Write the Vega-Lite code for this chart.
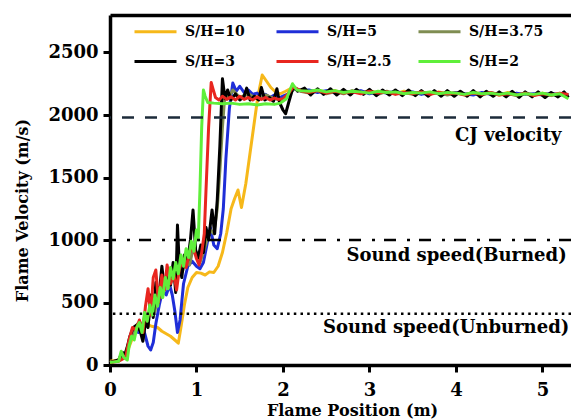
{
  "$schema": "https://vega.github.io/schema/vega-lite/v6.json",
  "width": 461,
  "height": 350,
  "autosize": {"type": "none"},
  "padding": {"left": 110, "top": 15, "right": 0, "bottom": 54},
  "background": "white",
  "config": {
    "view": {"stroke": null},
    "font": "DejaVu Serif",
    "axis": {"grid": false, "domainColor": "black", "tickColor": "black", "labelColor": "black", "titleColor": "black", "labelFont": "DejaVu Serif", "titleFont": "DejaVu Serif", "labelFontWeight": "bold", "titleFontWeight": "bold"},
    "legend": {"labelFont": "DejaVu Serif", "labelFontWeight": "bold"}
  },
  "datasets": {
    "curves": [
      {"s":"S/H=10","x":0,"y":30},{"s":"S/H=10","x":0.1,"y":40},{"s":"S/H=10","x":0.18,"y":70},{"s":"S/H=10","x":0.24,"y":180},{"s":"S/H=10","x":0.3,"y":280},{"s":"S/H=10","x":0.36,"y":330},{"s":"S/H=10","x":0.42,"y":330},{"s":"S/H=10","x":0.48,"y":310},{"s":"S/H=10","x":0.55,"y":300},{"s":"S/H=10","x":0.6,"y":270},{"s":"S/H=10","x":0.65,"y":250},{"s":"S/H=10","x":0.7,"y":230},{"s":"S/H=10","x":0.75,"y":200},{"s":"S/H=10","x":0.79,"y":175},{"s":"S/H=10","x":0.82,"y":300},{"s":"S/H=10","x":0.86,"y":480},{"s":"S/H=10","x":0.9,"y":620},{"s":"S/H=10","x":0.95,"y":700},{"s":"S/H=10","x":1.0,"y":740},{"s":"S/H=10","x":1.05,"y":735},{"s":"S/H=10","x":1.1,"y":720},{"s":"S/H=10","x":1.15,"y":745},{"s":"S/H=10","x":1.2,"y":740},{"s":"S/H=10","x":1.25,"y":790},{"s":"S/H=10","x":1.3,"y":900},{"s":"S/H=10","x":1.35,"y":1060},{"s":"S/H=10","x":1.4,"y":1250},{"s":"S/H=10","x":1.44,"y":1330},{"s":"S/H=10","x":1.48,"y":1400},{"s":"S/H=10","x":1.52,"y":1260},{"s":"S/H=10","x":1.57,"y":1450},{"s":"S/H=10","x":1.62,"y":1700},{"s":"S/H=10","x":1.67,"y":1950},{"s":"S/H=10","x":1.71,"y":2150},{"s":"S/H=10","x":1.76,"y":2320},{"s":"S/H=10","x":1.8,"y":2280},{"s":"S/H=10","x":1.86,"y":2220},{"s":"S/H=10","x":1.92,"y":2180},{"s":"S/H=10","x":1.97,"y":2170},{"s":"S/H=10","x":2.03,"y":2190},{"s":"S/H=10","x":2.1,"y":2215},{"s":"S/H=10","x":2.2,"y":2200},{"s":"S/H=10","x":2.3,"y":2185},{"s":"S/H=10","x":2.4,"y":2200},{"s":"S/H=10","x":2.5,"y":2180},{"s":"S/H=10","x":2.6,"y":2195},{"s":"S/H=10","x":2.7,"y":2175},{"s":"S/H=10","x":2.8,"y":2190},{"s":"S/H=10","x":2.9,"y":2180},{"s":"S/H=10","x":3.0,"y":2195},{"s":"S/H=10","x":3.1,"y":2175},{"s":"S/H=10","x":3.2,"y":2185},{"s":"S/H=10","x":3.3,"y":2170},{"s":"S/H=10","x":3.4,"y":2190},{"s":"S/H=10","x":3.5,"y":2175},{"s":"S/H=10","x":3.6,"y":2180},{"s":"S/H=10","x":3.7,"y":2165},{"s":"S/H=10","x":3.8,"y":2185},{"s":"S/H=10","x":3.9,"y":2170},{"s":"S/H=10","x":4.0,"y":2180},{"s":"S/H=10","x":4.1,"y":2165},{"s":"S/H=10","x":4.2,"y":2180},{"s":"S/H=10","x":4.3,"y":2170},{"s":"S/H=10","x":4.4,"y":2175},{"s":"S/H=10","x":4.5,"y":2160},{"s":"S/H=10","x":4.6,"y":2180},{"s":"S/H=10","x":4.7,"y":2165},{"s":"S/H=10","x":4.8,"y":2170},{"s":"S/H=10","x":4.9,"y":2160},{"s":"S/H=10","x":5.0,"y":2175},{"s":"S/H=10","x":5.1,"y":2160},{"s":"S/H=10","x":5.2,"y":2170},{"s":"S/H=10","x":5.3,"y":2155},

      {"s":"S/H=5","x":0,"y":20},{"s":"S/H=5","x":0.1,"y":35},{"s":"S/H=5","x":0.18,"y":80},{"s":"S/H=5","x":0.23,"y":200},{"s":"S/H=5","x":0.28,"y":290},{"s":"S/H=5","x":0.33,"y":260},{"s":"S/H=5","x":0.37,"y":330},{"s":"S/H=5","x":0.41,"y":230},{"s":"S/H=5","x":0.44,"y":150},{"s":"S/H=5","x":0.47,"y":120},{"s":"S/H=5","x":0.5,"y":180},{"s":"S/H=5","x":0.53,"y":330},{"s":"S/H=5","x":0.57,"y":480},{"s":"S/H=5","x":0.61,"y":600},{"s":"S/H=5","x":0.65,"y":560},{"s":"S/H=5","x":0.69,"y":640},{"s":"S/H=5","x":0.72,"y":560},{"s":"S/H=5","x":0.75,"y":430},{"s":"S/H=5","x":0.78,"y":260},{"s":"S/H=5","x":0.81,"y":360},{"s":"S/H=5","x":0.85,"y":650},{"s":"S/H=5","x":0.9,"y":790},{"s":"S/H=5","x":0.95,"y":830},{"s":"S/H=5","x":1.0,"y":790},{"s":"S/H=5","x":1.04,"y":770},{"s":"S/H=5","x":1.08,"y":820},{"s":"S/H=5","x":1.12,"y":960},{"s":"S/H=5","x":1.16,"y":1100},{"s":"S/H=5","x":1.2,"y":960},{"s":"S/H=5","x":1.24,"y":930},{"s":"S/H=5","x":1.28,"y":1050},{"s":"S/H=5","x":1.31,"y":1250},{"s":"S/H=5","x":1.34,"y":1650},{"s":"S/H=5","x":1.38,"y":2050},{"s":"S/H=5","x":1.42,"y":2256},{"s":"S/H=5","x":1.46,"y":2190},{"s":"S/H=5","x":1.5,"y":2230},{"s":"S/H=5","x":1.55,"y":2180},{"s":"S/H=5","x":1.6,"y":2200},{"s":"S/H=5","x":1.65,"y":2165},{"s":"S/H=5","x":1.7,"y":2175},{"s":"S/H=5","x":1.75,"y":2150},{"s":"S/H=5","x":1.8,"y":2165},{"s":"S/H=5","x":1.85,"y":2140},{"s":"S/H=5","x":1.9,"y":2160},{"s":"S/H=5","x":1.95,"y":2135},{"s":"S/H=5","x":2.0,"y":2150},{"s":"S/H=5","x":2.07,"y":2170},{"s":"S/H=5","x":2.14,"y":2215},{"s":"S/H=5","x":2.2,"y":2195},{"s":"S/H=5","x":2.3,"y":2200},{"s":"S/H=5","x":2.4,"y":2180},{"s":"S/H=5","x":2.5,"y":2195},{"s":"S/H=5","x":2.6,"y":2175},{"s":"S/H=5","x":2.7,"y":2190},{"s":"S/H=5","x":2.8,"y":2180},{"s":"S/H=5","x":2.9,"y":2195},{"s":"S/H=5","x":3.0,"y":2170},{"s":"S/H=5","x":3.1,"y":2185},{"s":"S/H=5","x":3.2,"y":2175},{"s":"S/H=5","x":3.3,"y":2190},{"s":"S/H=5","x":3.4,"y":2170},{"s":"S/H=5","x":3.5,"y":2185},{"s":"S/H=5","x":3.6,"y":2165},{"s":"S/H=5","x":3.7,"y":2180},{"s":"S/H=5","x":3.8,"y":2175},{"s":"S/H=5","x":3.9,"y":2165},{"s":"S/H=5","x":4.0,"y":2180},{"s":"S/H=5","x":4.1,"y":2170},{"s":"S/H=5","x":4.2,"y":2160},{"s":"S/H=5","x":4.3,"y":2180},{"s":"S/H=5","x":4.4,"y":2165},{"s":"S/H=5","x":4.5,"y":2175},{"s":"S/H=5","x":4.6,"y":2160},{"s":"S/H=5","x":4.7,"y":2175},{"s":"S/H=5","x":4.8,"y":2165},{"s":"S/H=5","x":4.9,"y":2170},{"s":"S/H=5","x":5.0,"y":2160},{"s":"S/H=5","x":5.1,"y":2175},{"s":"S/H=5","x":5.2,"y":2160},{"s":"S/H=5","x":5.3,"y":2165},

      {"s":"S/H=3.75","x":0,"y":20},{"s":"S/H=3.75","x":0.1,"y":40},{"s":"S/H=3.75","x":0.17,"y":90},{"s":"S/H=3.75","x":0.22,"y":180},{"s":"S/H=3.75","x":0.27,"y":270},{"s":"S/H=3.75","x":0.32,"y":330},{"s":"S/H=3.75","x":0.36,"y":290},{"s":"S/H=3.75","x":0.4,"y":380},{"s":"S/H=3.75","x":0.44,"y":330},{"s":"S/H=3.75","x":0.48,"y":500},{"s":"S/H=3.75","x":0.52,"y":430},{"s":"S/H=3.75","x":0.56,"y":620},{"s":"S/H=3.75","x":0.6,"y":540},{"s":"S/H=3.75","x":0.64,"y":700},{"s":"S/H=3.75","x":0.68,"y":620},{"s":"S/H=3.75","x":0.72,"y":760},{"s":"S/H=3.75","x":0.76,"y":680},{"s":"S/H=3.75","x":0.8,"y":820},{"s":"S/H=3.75","x":0.84,"y":750},{"s":"S/H=3.75","x":0.88,"y":870},{"s":"S/H=3.75","x":0.92,"y":800},{"s":"S/H=3.75","x":0.96,"y":930},{"s":"S/H=3.75","x":1.0,"y":870},{"s":"S/H=3.75","x":1.04,"y":820},{"s":"S/H=3.75","x":1.08,"y":900},{"s":"S/H=3.75","x":1.12,"y":1000},{"s":"S/H=3.75","x":1.16,"y":1080},{"s":"S/H=3.75","x":1.2,"y":1050},{"s":"S/H=3.75","x":1.24,"y":1250},{"s":"S/H=3.75","x":1.27,"y":1550},{"s":"S/H=3.75","x":1.3,"y":1900},{"s":"S/H=3.75","x":1.33,"y":2180},{"s":"S/H=3.75","x":1.37,"y":2140},{"s":"S/H=3.75","x":1.42,"y":2200},{"s":"S/H=3.75","x":1.5,"y":2140},{"s":"S/H=3.75","x":1.6,"y":2170},{"s":"S/H=3.75","x":1.7,"y":2130},{"s":"S/H=3.75","x":1.8,"y":2160},{"s":"S/H=3.75","x":1.9,"y":2130},{"s":"S/H=3.75","x":2.0,"y":2120},{"s":"S/H=3.75","x":2.07,"y":2160},{"s":"S/H=3.75","x":2.13,"y":2215},{"s":"S/H=3.75","x":2.2,"y":2190},{"s":"S/H=3.75","x":2.3,"y":2175},{"s":"S/H=3.75","x":2.4,"y":2195},{"s":"S/H=3.75","x":2.5,"y":2170},{"s":"S/H=3.75","x":2.6,"y":2185},{"s":"S/H=3.75","x":2.7,"y":2170},{"s":"S/H=3.75","x":2.8,"y":2195},{"s":"S/H=3.75","x":2.9,"y":2175},{"s":"S/H=3.75","x":3.0,"y":2185},{"s":"S/H=3.75","x":3.1,"y":2165},{"s":"S/H=3.75","x":3.2,"y":2190},{"s":"S/H=3.75","x":3.3,"y":2170},{"s":"S/H=3.75","x":3.4,"y":2180},{"s":"S/H=3.75","x":3.5,"y":2165},{"s":"S/H=3.75","x":3.6,"y":2185},{"s":"S/H=3.75","x":3.7,"y":2170},{"s":"S/H=3.75","x":3.8,"y":2180},{"s":"S/H=3.75","x":3.9,"y":2160},{"s":"S/H=3.75","x":4.0,"y":2175},{"s":"S/H=3.75","x":4.1,"y":2165},{"s":"S/H=3.75","x":4.2,"y":2175},{"s":"S/H=3.75","x":4.3,"y":2160},{"s":"S/H=3.75","x":4.4,"y":2180},{"s":"S/H=3.75","x":4.5,"y":2165},{"s":"S/H=3.75","x":4.6,"y":2170},{"s":"S/H=3.75","x":4.7,"y":2155},{"s":"S/H=3.75","x":4.8,"y":2175},{"s":"S/H=3.75","x":4.9,"y":2160},{"s":"S/H=3.75","x":5.0,"y":2170},{"s":"S/H=3.75","x":5.1,"y":2155},{"s":"S/H=3.75","x":5.2,"y":2170},{"s":"S/H=3.75","x":5.3,"y":2160},

      {"s":"S/H=3","x":0,"y":20},{"s":"S/H=3","x":0.1,"y":40},{"s":"S/H=3","x":0.14,"y":100},{"s":"S/H=3","x":0.18,"y":90},{"s":"S/H=3","x":0.23,"y":230},{"s":"S/H=3","x":0.27,"y":300},{"s":"S/H=3","x":0.31,"y":320},{"s":"S/H=3","x":0.35,"y":270},{"s":"S/H=3","x":0.38,"y":190},{"s":"S/H=3","x":0.41,"y":340},{"s":"S/H=3","x":0.44,"y":300},{"s":"S/H=3","x":0.47,"y":560},{"s":"S/H=3","x":0.5,"y":380},{"s":"S/H=3","x":0.53,"y":660},{"s":"S/H=3","x":0.56,"y":500},{"s":"S/H=3","x":0.6,"y":790},{"s":"S/H=3","x":0.63,"y":600},{"s":"S/H=3","x":0.66,"y":720},{"s":"S/H=3","x":0.7,"y":640},{"s":"S/H=3","x":0.73,"y":820},{"s":"S/H=3","x":0.76,"y":580},{"s":"S/H=3","x":0.78,"y":1120},{"s":"S/H=3","x":0.8,"y":820},{"s":"S/H=3","x":0.83,"y":700},{"s":"S/H=3","x":0.86,"y":880},{"s":"S/H=3","x":0.9,"y":840},{"s":"S/H=3","x":0.93,"y":1000},{"s":"S/H=3","x":0.96,"y":1240},{"s":"S/H=3","x":0.99,"y":920},{"s":"S/H=3","x":1.02,"y":860},{"s":"S/H=3","x":1.05,"y":960},{"s":"S/H=3","x":1.08,"y":900},{"s":"S/H=3","x":1.11,"y":1100},{"s":"S/H=3","x":1.14,"y":1000},{"s":"S/H=3","x":1.18,"y":1240},{"s":"S/H=3","x":1.21,"y":1050},{"s":"S/H=3","x":1.24,"y":1320},{"s":"S/H=3","x":1.27,"y":1750},{"s":"S/H=3","x":1.3,"y":2290},{"s":"S/H=3","x":1.33,"y":2130},{"s":"S/H=3","x":1.36,"y":2200},{"s":"S/H=3","x":1.4,"y":2120},{"s":"S/H=3","x":1.45,"y":2170},{"s":"S/H=3","x":1.5,"y":2120},{"s":"S/H=3","x":1.55,"y":2150},{"s":"S/H=3","x":1.58,"y":2215},{"s":"S/H=3","x":1.62,"y":2120},{"s":"S/H=3","x":1.67,"y":2150},{"s":"S/H=3","x":1.72,"y":2120},{"s":"S/H=3","x":1.75,"y":2220},{"s":"S/H=3","x":1.79,"y":2120},{"s":"S/H=3","x":1.84,"y":2140},{"s":"S/H=3","x":1.89,"y":2110},{"s":"S/H=3","x":1.93,"y":2210},{"s":"S/H=3","x":1.96,"y":2100},{"s":"S/H=3","x":2.0,"y":2040},{"s":"S/H=3","x":2.03,"y":2010},{"s":"S/H=3","x":2.07,"y":2110},{"s":"S/H=3","x":2.12,"y":2230},{"s":"S/H=3","x":2.17,"y":2190},{"s":"S/H=3","x":2.25,"y":2215},{"s":"S/H=3","x":2.32,"y":2160},{"s":"S/H=3","x":2.4,"y":2210},{"s":"S/H=3","x":2.47,"y":2165},{"s":"S/H=3","x":2.55,"y":2210},{"s":"S/H=3","x":2.62,"y":2160},{"s":"S/H=3","x":2.7,"y":2205},{"s":"S/H=3","x":2.78,"y":2160},{"s":"S/H=3","x":2.85,"y":2205},{"s":"S/H=3","x":2.93,"y":2165},{"s":"S/H=3","x":3.0,"y":2205},{"s":"S/H=3","x":3.08,"y":2155},{"s":"S/H=3","x":3.15,"y":2200},{"s":"S/H=3","x":3.23,"y":2160},{"s":"S/H=3","x":3.3,"y":2200},{"s":"S/H=3","x":3.38,"y":2155},{"s":"S/H=3","x":3.45,"y":2200},{"s":"S/H=3","x":3.53,"y":2155},{"s":"S/H=3","x":3.6,"y":2195},{"s":"S/H=3","x":3.68,"y":2150},{"s":"S/H=3","x":3.75,"y":2195},{"s":"S/H=3","x":3.83,"y":2150},{"s":"S/H=3","x":3.9,"y":2195},{"s":"S/H=3","x":3.98,"y":2150},{"s":"S/H=3","x":4.05,"y":2190},{"s":"S/H=3","x":4.13,"y":2150},{"s":"S/H=3","x":4.2,"y":2195},{"s":"S/H=3","x":4.28,"y":2145},{"s":"S/H=3","x":4.35,"y":2190},{"s":"S/H=3","x":4.43,"y":2150},{"s":"S/H=3","x":4.5,"y":2185},{"s":"S/H=3","x":4.58,"y":2145},{"s":"S/H=3","x":4.65,"y":2190},{"s":"S/H=3","x":4.73,"y":2140},{"s":"S/H=3","x":4.8,"y":2185},{"s":"S/H=3","x":4.88,"y":2145},{"s":"S/H=3","x":4.95,"y":2185},{"s":"S/H=3","x":5.03,"y":2140},{"s":"S/H=3","x":5.1,"y":2180},{"s":"S/H=3","x":5.18,"y":2145},{"s":"S/H=3","x":5.25,"y":2185},{"s":"S/H=3","x":5.3,"y":2140},

      {"s":"S/H=2.5","x":0,"y":20},{"s":"S/H=2.5","x":0.1,"y":30},{"s":"S/H=2.5","x":0.18,"y":60},{"s":"S/H=2.5","x":0.22,"y":200},{"s":"S/H=2.5","x":0.26,"y":300},{"s":"S/H=2.5","x":0.3,"y":280},{"s":"S/H=2.5","x":0.34,"y":360},{"s":"S/H=2.5","x":0.38,"y":260},{"s":"S/H=2.5","x":0.41,"y":470},{"s":"S/H=2.5","x":0.44,"y":610},{"s":"S/H=2.5","x":0.47,"y":400},{"s":"S/H=2.5","x":0.5,"y":700},{"s":"S/H=2.5","x":0.53,"y":760},{"s":"S/H=2.5","x":0.56,"y":500},{"s":"S/H=2.5","x":0.6,"y":720},{"s":"S/H=2.5","x":0.63,"y":600},{"s":"S/H=2.5","x":0.66,"y":800},{"s":"S/H=2.5","x":0.7,"y":650},{"s":"S/H=2.5","x":0.74,"y":720},{"s":"S/H=2.5","x":0.77,"y":600},{"s":"S/H=2.5","x":0.8,"y":760},{"s":"S/H=2.5","x":0.84,"y":850},{"s":"S/H=2.5","x":0.88,"y":780},{"s":"S/H=2.5","x":0.92,"y":900},{"s":"S/H=2.5","x":0.96,"y":950},{"s":"S/H=2.5","x":1.0,"y":850},{"s":"S/H=2.5","x":1.03,"y":800},{"s":"S/H=2.5","x":1.06,"y":900},{"s":"S/H=2.5","x":1.09,"y":1050},{"s":"S/H=2.5","x":1.11,"y":1400},{"s":"S/H=2.5","x":1.14,"y":1900},{"s":"S/H=2.5","x":1.17,"y":2260},{"s":"S/H=2.5","x":1.19,"y":2210},{"s":"S/H=2.5","x":1.22,"y":2140},{"s":"S/H=2.5","x":1.26,"y":2120},{"s":"S/H=2.5","x":1.3,"y":2150},{"s":"S/H=2.5","x":1.35,"y":2125},{"s":"S/H=2.5","x":1.4,"y":2145},{"s":"S/H=2.5","x":1.45,"y":2120},{"s":"S/H=2.5","x":1.5,"y":2150},{"s":"S/H=2.5","x":1.55,"y":2125},{"s":"S/H=2.5","x":1.6,"y":2140},{"s":"S/H=2.5","x":1.65,"y":2120},{"s":"S/H=2.5","x":1.7,"y":2145},{"s":"S/H=2.5","x":1.75,"y":2125},{"s":"S/H=2.5","x":1.8,"y":2140},{"s":"S/H=2.5","x":1.85,"y":2120},{"s":"S/H=2.5","x":1.9,"y":2135},{"s":"S/H=2.5","x":1.95,"y":2125},{"s":"S/H=2.5","x":2.0,"y":2130},{"s":"S/H=2.5","x":2.06,"y":2170},{"s":"S/H=2.5","x":2.12,"y":2225},{"s":"S/H=2.5","x":2.2,"y":2195},{"s":"S/H=2.5","x":2.3,"y":2180},{"s":"S/H=2.5","x":2.4,"y":2195},{"s":"S/H=2.5","x":2.5,"y":2175},{"s":"S/H=2.5","x":2.6,"y":2190},{"s":"S/H=2.5","x":2.7,"y":2175},{"s":"S/H=2.5","x":2.8,"y":2185},{"s":"S/H=2.5","x":2.9,"y":2170},{"s":"S/H=2.5","x":3.0,"y":2190},{"s":"S/H=2.5","x":3.1,"y":2175},{"s":"S/H=2.5","x":3.2,"y":2185},{"s":"S/H=2.5","x":3.3,"y":2165},{"s":"S/H=2.5","x":3.4,"y":2180},{"s":"S/H=2.5","x":3.5,"y":2170},{"s":"S/H=2.5","x":3.6,"y":2185},{"s":"S/H=2.5","x":3.7,"y":2165},{"s":"S/H=2.5","x":3.8,"y":2180},{"s":"S/H=2.5","x":3.9,"y":2170},{"s":"S/H=2.5","x":4.0,"y":2175},{"s":"S/H=2.5","x":4.1,"y":2160},{"s":"S/H=2.5","x":4.2,"y":2175},{"s":"S/H=2.5","x":4.3,"y":2165},{"s":"S/H=2.5","x":4.4,"y":2180},{"s":"S/H=2.5","x":4.5,"y":2160},{"s":"S/H=2.5","x":4.6,"y":2170},{"s":"S/H=2.5","x":4.7,"y":2160},{"s":"S/H=2.5","x":4.8,"y":2175},{"s":"S/H=2.5","x":4.9,"y":2155},{"s":"S/H=2.5","x":5.0,"y":2170},{"s":"S/H=2.5","x":5.1,"y":2160},{"s":"S/H=2.5","x":5.2,"y":2175},{"s":"S/H=2.5","x":5.3,"y":2165},

      {"s":"S/H=2","x":0,"y":20},{"s":"S/H=2","x":0.05,"y":25},{"s":"S/H=2","x":0.1,"y":30},{"s":"S/H=2","x":0.13,"y":110},{"s":"S/H=2","x":0.16,"y":60},{"s":"S/H=2","x":0.2,"y":40},{"s":"S/H=2","x":0.22,"y":150},{"s":"S/H=2","x":0.25,"y":230},{"s":"S/H=2","x":0.28,"y":200},{"s":"S/H=2","x":0.31,"y":300},{"s":"S/H=2","x":0.34,"y":340},{"s":"S/H=2","x":0.37,"y":260},{"s":"S/H=2","x":0.4,"y":420},{"s":"S/H=2","x":0.43,"y":350},{"s":"S/H=2","x":0.46,"y":480},{"s":"S/H=2","x":0.49,"y":400},{"s":"S/H=2","x":0.52,"y":560},{"s":"S/H=2","x":0.55,"y":470},{"s":"S/H=2","x":0.58,"y":620},{"s":"S/H=2","x":0.61,"y":540},{"s":"S/H=2","x":0.64,"y":700},{"s":"S/H=2","x":0.67,"y":610},{"s":"S/H=2","x":0.7,"y":780},{"s":"S/H=2","x":0.73,"y":690},{"s":"S/H=2","x":0.76,"y":820},{"s":"S/H=2","x":0.79,"y":730},{"s":"S/H=2","x":0.82,"y":880},{"s":"S/H=2","x":0.85,"y":790},{"s":"S/H=2","x":0.88,"y":930},{"s":"S/H=2","x":0.91,"y":860},{"s":"S/H=2","x":0.94,"y":990},{"s":"S/H=2","x":0.97,"y":910},{"s":"S/H=2","x":1.0,"y":1080},{"s":"S/H=2","x":1.02,"y":1000},{"s":"S/H=2","x":1.04,"y":1400},{"s":"S/H=2","x":1.06,"y":1900},{"s":"S/H=2","x":1.08,"y":2200},{"s":"S/H=2","x":1.1,"y":2150},{"s":"S/H=2","x":1.13,"y":2100},{"s":"S/H=2","x":1.2,"y":2095},{"s":"S/H=2","x":1.3,"y":2090},{"s":"S/H=2","x":1.4,"y":2095},{"s":"S/H=2","x":1.5,"y":2085},{"s":"S/H=2","x":1.6,"y":2090},{"s":"S/H=2","x":1.7,"y":2080},{"s":"S/H=2","x":1.8,"y":2090},{"s":"S/H=2","x":1.9,"y":2085},{"s":"S/H=2","x":1.97,"y":2095},{"s":"S/H=2","x":2.04,"y":2130},{"s":"S/H=2","x":2.11,"y":2250},{"s":"S/H=2","x":2.16,"y":2200},{"s":"S/H=2","x":2.2,"y":2195},{"s":"S/H=2","x":2.3,"y":2190},{"s":"S/H=2","x":2.4,"y":2200},{"s":"S/H=2","x":2.5,"y":2185},{"s":"S/H=2","x":2.6,"y":2195},{"s":"S/H=2","x":2.7,"y":2180},{"s":"S/H=2","x":2.8,"y":2190},{"s":"S/H=2","x":2.9,"y":2185},{"s":"S/H=2","x":3.0,"y":2175},{"s":"S/H=2","x":3.1,"y":2190},{"s":"S/H=2","x":3.2,"y":2180},{"s":"S/H=2","x":3.3,"y":2185},{"s":"S/H=2","x":3.4,"y":2170},{"s":"S/H=2","x":3.5,"y":2180},{"s":"S/H=2","x":3.6,"y":2175},{"s":"S/H=2","x":3.7,"y":2185},{"s":"S/H=2","x":3.8,"y":2170},{"s":"S/H=2","x":3.9,"y":2180},{"s":"S/H=2","x":4.0,"y":2175},{"s":"S/H=2","x":4.1,"y":2165},{"s":"S/H=2","x":4.2,"y":2180},{"s":"S/H=2","x":4.3,"y":2170},{"s":"S/H=2","x":4.4,"y":2175},{"s":"S/H=2","x":4.5,"y":2165},{"s":"S/H=2","x":4.6,"y":2175},{"s":"S/H=2","x":4.7,"y":2160},{"s":"S/H=2","x":4.8,"y":2170},{"s":"S/H=2","x":4.9,"y":2165},{"s":"S/H=2","x":5.0,"y":2175},{"s":"S/H=2","x":5.1,"y":2160},{"s":"S/H=2","x":5.2,"y":2170},{"s":"S/H=2","x":5.3,"y":2130}
    ],
    "refs": [
      {"kind": "CJ velocity", "y": 1980},
      {"kind": "Sound speed(Burned)", "y": 1000},
      {"kind": "Sound speed(Unburned)", "y": 410}
    ],
    "noteCJ": [
      {"label": "CJ velocity", "x": 5.22, "y": 1790}
    ],
    "noteSound": [
      {"label": "Sound speed(Burned)", "x": 5.28, "y": 830},
      {"label": "Sound speed(Unburned)", "x": 5.31, "y": 255}
    ]
  },
  "resolve": {"axis": {"x": "independent", "y": "independent"}, "scale": {"color": "independent", "strokeDash": "independent", "strokeWidth": "independent"}},
  "layer": [
    {
      "data": {"name": "curves"},
      "mark": {"type": "line", "strokeJoin": "round"},
      "encoding": {
        "x": {"field": "x", "type": "quantitative", "scale": {"domain": [0, 5.33], "nice": false, "zero": false},
          "axis": {"orient": "bottom", "values": [0, 1, 2, 3, 4, 5], "format": "d", "title": "Flame Position (m)", "labelFontSize": 18, "titleFontSize": 16, "tickSize": 7, "tickWidth": 3, "domainWidth": 3.5, "labelPadding": 9, "titlePadding": 3, "titleX": 242, "labelFlush": false}},
        "y": {"field": "y", "type": "quantitative", "scale": {"domain": [0, 2800], "nice": false, "zero": false},
          "axis": {"orient": "left", "values": [0, 500, 1000, 1500, 2000, 2500], "format": "d", "title": "Flame Velocity (m/s)", "labelFontSize": 18, "titleFontSize": 16, "tickSize": 7, "tickWidth": 3, "domainWidth": 3.5, "labelPadding": 5, "titlePadding": 17, "titleY": 195, "labelFlush": false}},
        "color": {"field": "s", "type": "nominal",
          "scale": {"domain": ["S/H=10", "S/H=5", "S/H=3.75", "S/H=3", "S/H=2.5", "S/H=2"], "range": ["#F6B81A", "#1F2ED8", "#7F8D52", "#000000", "#E8261F", "#5FEF3A"]},
          "sort": ["S/H=10", "S/H=5", "S/H=3.75", "S/H=3", "S/H=2.5", "S/H=2"],
          "legend": {"orient": "none", "legendX": 23, "legendY": -6, "direction": "horizontal", "columns": 3, "gridAlign": "all", "title": null, "symbolType": "stroke", "symbolSize": 1764, "symbolStrokeWidth": 4, "labelFontSize": 14, "labelOffset": 7, "columnPadding": 10, "rowPadding": -8, "padding": 0}},
        "strokeWidth": {"field": "s", "type": "nominal", "scale": {"domain": ["S/H=10", "S/H=5", "S/H=3.75", "S/H=3", "S/H=2.5", "S/H=2"], "range": [3, 3, 3, 3, 3, 4.5]}, "legend": null},
        "order": {"field": "x", "type": "quantitative"}
      }
    },
    {
      "data": {"name": "refs"},
      "mark": {"type": "rule", "strokeWidth": 2.7, "strokeCap": "butt"},
      "encoding": {
        "y": {"field": "y", "type": "quantitative", "scale": {"domain": [0, 2800], "nice": false, "zero": false}, "axis": null},
        "strokeDash": {"field": "kind", "type": "nominal", "scale": {"domain": ["CJ velocity", "Sound speed(Burned)", "Sound speed(Unburned)"], "range": [[12, 11], [12, 9, 3, 11], [2.5, 4.2]]}, "legend": null},
        "color": {"field": "kind", "type": "nominal", "scale": {"domain": ["CJ velocity", "Sound speed(Burned)", "Sound speed(Unburned)"], "range": ["#1C2B3A", "#000000", "#000000"]}, "legend": null}
      }
    },
    {
      "data": {"name": "noteCJ"},
      "mark": {"type": "text", "align": "right", "baseline": "alphabetic", "font": "DejaVu Serif", "fontWeight": "bold", "fontSize": 18, "color": "black"},
      "encoding": {
        "x": {"field": "x", "type": "quantitative", "scale": {"domain": [0, 5.33], "nice": false, "zero": false},
          "axis": {"orient": "top", "labels": false, "ticks": false, "title": null, "domainWidth": 3.5}},
        "y": {"field": "y", "type": "quantitative", "scale": {"domain": [0, 2800], "nice": false, "zero": false}, "axis": null},
        "text": {"field": "label"}
      }
    },
    {
      "data": {"name": "noteSound"},
      "mark": {"type": "text", "align": "right", "baseline": "alphabetic", "font": "DejaVu Serif", "fontWeight": "bold", "fontSize": 18, "color": "black"},
      "encoding": {
        "x": {"field": "x", "type": "quantitative", "scale": {"domain": [0, 5.33], "nice": false, "zero": false}, "axis": null},
        "y": {"field": "y", "type": "quantitative", "scale": {"domain": [0, 2800], "nice": false, "zero": false}, "axis": null},
        "text": {"field": "label"}
      }
    }
  ]
}
